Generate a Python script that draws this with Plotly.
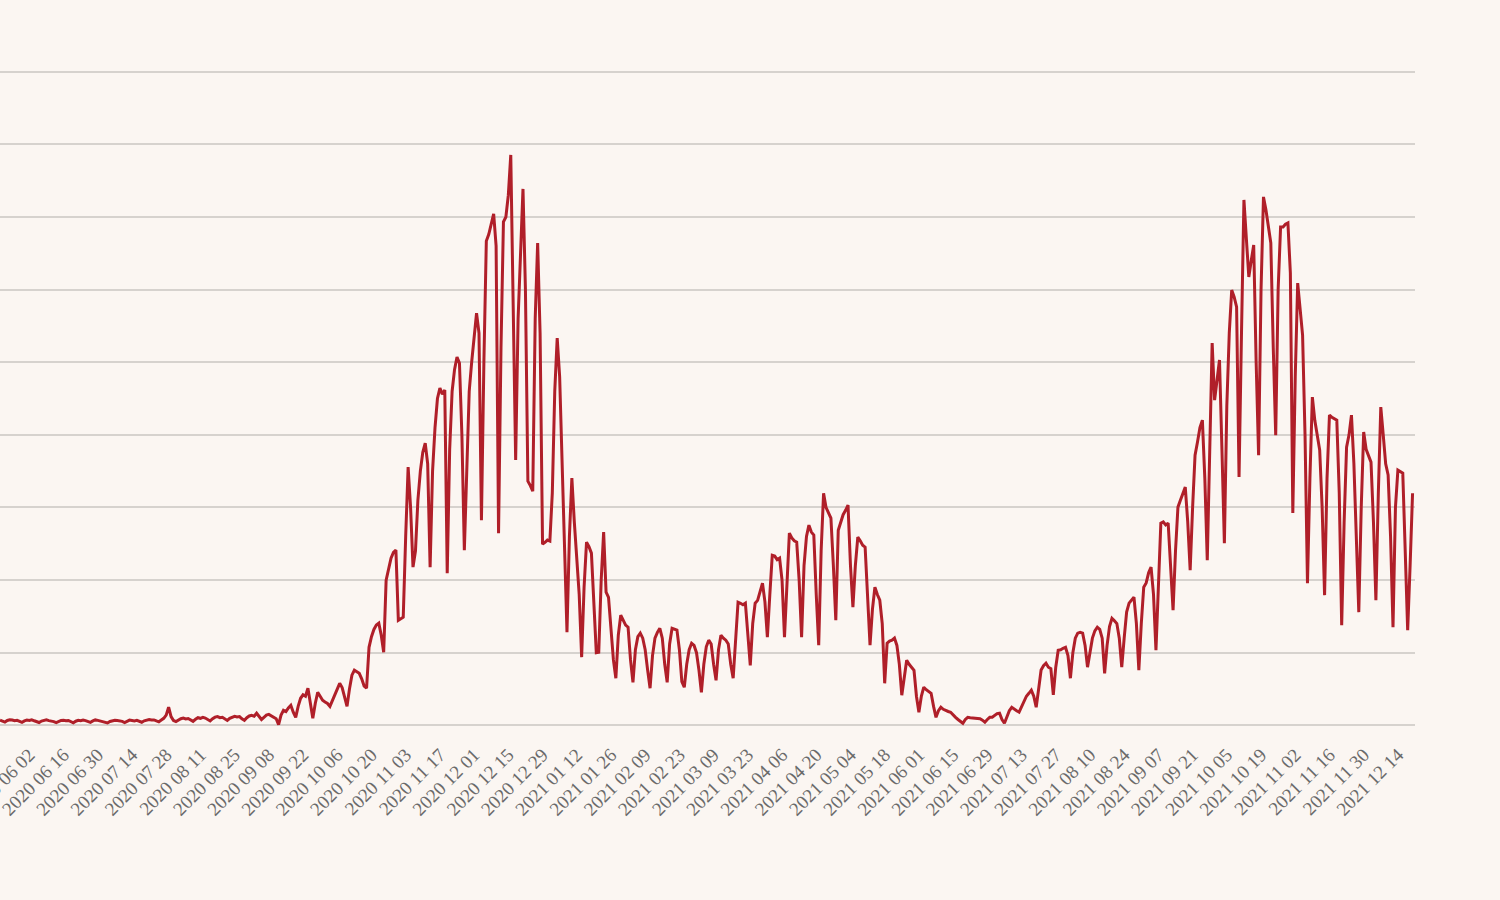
"""Daily new cases, weekly reporting cycle, 2020-05 .. 2021-12."""

import pandas as pd
import plotly.graph_objects as go

# ── Data ──────────────────────────────────────────────────────────────────────

START_DATE = "2020-05-21"

# one row per week (7 days)
cases = [
    35, 30, 22, 33, 38, 36, 31,
    34, 28, 20, 30, 36, 33, 38,
    31, 27, 19, 29, 35, 37, 32,
    30, 25, 18, 27, 33, 35, 31,
    33, 26, 17, 28, 34, 31, 36,
    32, 24, 20, 30, 37, 34, 30,
    29, 23, 16, 26, 32, 35, 33,
    31, 27, 19, 29, 36, 33, 30,
    34, 28, 21, 31, 38, 40, 36,
    37, 30, 24, 36, 48, 70, 125,
    60, 33, 26, 38, 45, 50, 44,
    47, 36, 27, 41, 52, 48, 55,
    50, 38, 30, 45, 56, 60, 52,
    55, 42, 33, 48, 58, 62, 57,
    60, 44, 34, 52, 64, 69, 62,
    83, 60, 40, 55, 70, 75, 64,
    58, 45, 5, 70, 103, 95, 120,
    138, 90, 55, 130, 186, 210, 200,
    255, 160, 48, 150, 227, 200, 172,
    160, 150, 130, 172, 210, 250, 289,
    260, 190, 130, 250, 345, 379, 370,
    358, 320, 270, 255, 537, 610, 660,
    690, 703, 620, 503, 999, 1080, 1150,
    1190, 1206, 723, 735, 744, 1300, 1778,
    1500, 1089, 1200, 1550, 1750, 1880, 1943,
    1800, 1089, 1750, 2050, 2250, 2322, 2280,
    2308, 1047, 1900, 2300, 2450, 2535, 2494,
    2000, 1206, 1850, 2300, 2500, 2650, 2838,
    2700, 1412, 2500, 3335, 3380, 3450, 3521,
    3300, 1323, 2600, 3466, 3500, 3650, 3927,
    2900, 1826, 2800, 3300, 3693, 3000, 1681,
    1650, 1612, 2800, 3321, 2700, 1247, 1260,
    1275, 1268, 1600, 2300, 2666, 2400, 1800,
    1200, 641, 1300, 1702, 1400, 1171, 900,
    469, 950, 1261, 1230, 1185, 800, 500,
    503, 1000, 1330, 916, 880, 650, 450,
    324, 620, 758, 720, 690, 675, 450,
    296, 520, 610, 634, 600, 520, 380,
    255, 480, 600, 640, 668, 600, 420,
    296, 560, 668, 660, 655, 520, 300,
    262, 420, 520, 565, 550, 500, 380,
    227, 420, 540, 586, 560, 420, 310,
    520, 620, 600, 586, 560, 420, 324,
    620, 847, 840, 830, 841, 650, 413,
    700, 841, 860, 920, 978, 850, 606,
    900, 1171, 1165, 1140, 1151, 1000, 606,
    1000, 1323, 1290, 1270, 1261, 1000, 606,
    1100, 1300, 1378, 1330, 1309, 900, 551,
    1200, 1598, 1500, 1460, 1426, 1100, 723,
    1343, 1400, 1450, 1480, 1516, 1100, 813,
    1100, 1295, 1270, 1240, 1226, 900, 551,
    800, 951, 900, 861, 700, 289, 565,
    580, 586, 600, 550, 420, 207, 330,
    448, 420, 400, 379, 200, 90, 200,
    262, 245, 230, 220, 130, 55, 100,
    124, 110, 100, 95, 90, 70, 55,
    40, 30, 14, 40, 55, 52, 50,
    50, 48, 45, 35, 21, 40, 55,
    55, 70, 80, 83, 40, 14, 60,
    100, 124, 110, 100, 90, 130, 172,
    200, 220, 241, 200, 124, 250, 380,
    410, 427, 400, 390, 210, 400, 517,
    520, 530, 537, 480, 324, 500, 600,
    634, 640, 634, 550, 400, 500, 600,
    650, 675, 660, 600, 358, 550, 680,
    737, 720, 700, 600, 400, 600, 780,
    841, 860, 882, 700, 379, 700, 951,
    980, 1050, 1089, 900, 517, 1000, 1392,
    1400, 1380, 1392, 1100, 792, 1200, 1502,
    1550, 1600, 1640, 1400, 1068, 1500, 1860,
    1950, 2050, 2101, 1700, 1137, 2000, 2632,
    2239, 2400, 2515, 1900, 1254, 2200, 2700,
    2997, 2950, 2880, 1709, 2700, 3617, 3350,
    3087, 3200, 3307, 2500, 1860, 3000, 3638,
    3550, 3450, 3321, 2600, 1998, 3000, 3431,
    3431, 3450, 3459, 3114, 1461, 2400, 3045,
    2850, 2687, 2000, 978, 1700, 2260, 2100,
    2000, 1895, 1500, 896, 1700, 2136, 2120,
    2110, 2101, 1600, 689, 1400, 1915, 2000,
    2136, 1800, 1200, 779, 1500, 2019, 1900,
    1850, 1812, 1400, 861, 1600, 2191, 2000,
    1800, 1723, 1300, 675, 1500, 1757, 1745,
    1736, 1200, 655, 1100, 1598,
]

dates = pd.date_range(START_DATE, periods=len(cases), freq="D")

# ── Style ─────────────────────────────────────────────────────────────────────

BG        = "#fbf6f2"
GRID      = "#d6d2ce"
LINE_RED  = "#b01f29"
TICK_GREY = "#6a6a6a"

fig = go.Figure()

fig.add_trace(go.Scatter(
    x         = dates,
    y         = cases,
    mode      = "lines",
    line      = dict(color=LINE_RED, width=3),
    hoverinfo = "x+y",
))

# y range padded so the 0 and 4500 grid lines are not dropped at the edges
fig.update_layout(
    width         = 1500,
    height        = 900,
    paper_bgcolor = BG,
    plot_bgcolor  = BG,
    showlegend    = False,
    margin        = dict(l=0, r=85, t=63, b=166),
    xaxis = dict(
        range             = ["2020-05-21", "2021-12-21"],
        tick0             = "2020-06-02",
        dtick             = 14 * 24 * 3600 * 1000,
        tickformat        = "%Y %m %d",
        tickangle         = -45,
        tickfont          = dict(family="Liberation Serif", size=19, color=TICK_GREY),
        ticklabelstandoff = 5,
        ticklabeloverflow = "allow",
        automargin        = False,
        showgrid          = False,
        showline          = False,
        zeroline          = False,
        ticks             = "",
    ),
    yaxis = dict(
        range          = [-60, 4560],
        tick0          = 0,
        dtick          = 500,
        showgrid       = True,
        gridcolor      = GRID,
        gridwidth      = 2,
        showticklabels = False,
        automargin     = False,
        zeroline       = False,
        showline       = False,
        ticks          = "",
    ),
)

fig.write_html(
    "out.html",
    config=dict(displayModeBar=False),
    post_script="document.body.style.margin='0';document.body.style.background='%s';" % BG,
)
